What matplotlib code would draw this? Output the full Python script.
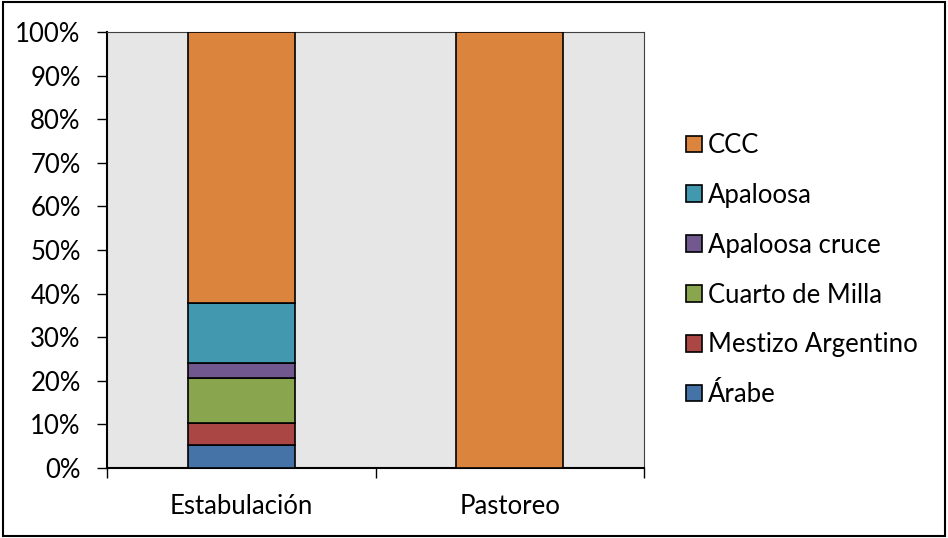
import matplotlib.pyplot as plt
import numpy as np
from matplotlib.patches import Rectangle
from matplotlib.ticker import FuncFormatter, MultipleLocator

plt.rcParams["font.family"] = ["Lato", "DejaVu Sans"]

categories = ["Estabulación", "Pastoreo"]
breeds = ["Árabe", "Mestizo Argentino", "Cuarto de Milla",
          "Apaloosa cruce", "Apaloosa", "CCC"]
# animal counts per management system
counts = {
    "Árabe": [3, 0],
    "Mestizo Argentino": [3, 0],
    "Cuarto de Milla": [6, 0],
    "Apaloosa cruce": [2, 0],
    "Apaloosa": [8, 0],
    "CCC": [36, 12],
}
colors = ["#4572A7", "#AA4643", "#89A54E", "#71588F", "#4198AF", "#DB843D"]

totals = np.sum([counts[b] for b in breeds], axis=0)
shares = {b: 100 * np.array(counts[b]) / totals for b in breeds}

fig = plt.figure(figsize=(9.48, 5.38), dpi=100)
fig.patch.set_facecolor("white")
fig.add_artist(Rectangle((0.003, 0.004), 0.994, 0.992, transform=fig.transFigure,
                         fill=False, edgecolor="black", linewidth=1.5))

ax = fig.add_axes([0.1129, 0.1301, 0.5664, 0.8104])
ax.set_facecolor("#E6E6E6")

x = np.arange(len(categories))
bottom = np.zeros(len(categories))
for breed, color in zip(breeds, colors):
    ax.bar(x, shares[breed], bottom=bottom, width=0.4, color=color,
           edgecolor="black", linewidth=1.2, label=breed, zorder=3)
    bottom += shares[breed]

ax.set_xlim(-0.5, 1.5)
ax.set_ylim(0, 100)
ax.yaxis.set_major_locator(MultipleLocator(10))
ax.yaxis.set_major_formatter(FuncFormatter(lambda v, _: f"{v:.0f}%"))
ax.set_xticks([-0.5, 0.5, 1.5], labels=["", "", ""])
ax.set_xticks(x, labels=categories, minor=True)
ax.tick_params(axis="x", which="major", direction="out", length=7, width=1)
ax.tick_params(axis="x", which="minor", length=0, pad=19, labelsize=18.5)
ax.tick_params(axis="y", direction="out", length=7, width=1, labelsize=18.5, pad=12)

for side in ("top", "right"):
    ax.spines[side].set_color("#404040")
    ax.spines[side].set_linewidth(0.8)
for side in ("left", "bottom"):
    ax.spines[side].set_color("black")
    ax.spines[side].set_linewidth(1.5)

handles, labels = ax.get_legend_handles_labels()
ax.legend(handles[::-1], labels[::-1], loc="center left",
          bbox_to_anchor=(1.05, 0.454), frameon=False, fontsize=18.5,
          handlelength=0.6, handleheight=0.6, handletextpad=0.25,
          labelspacing=0.97, borderaxespad=0.2)

fig.savefig("out.png", dpi=100)
